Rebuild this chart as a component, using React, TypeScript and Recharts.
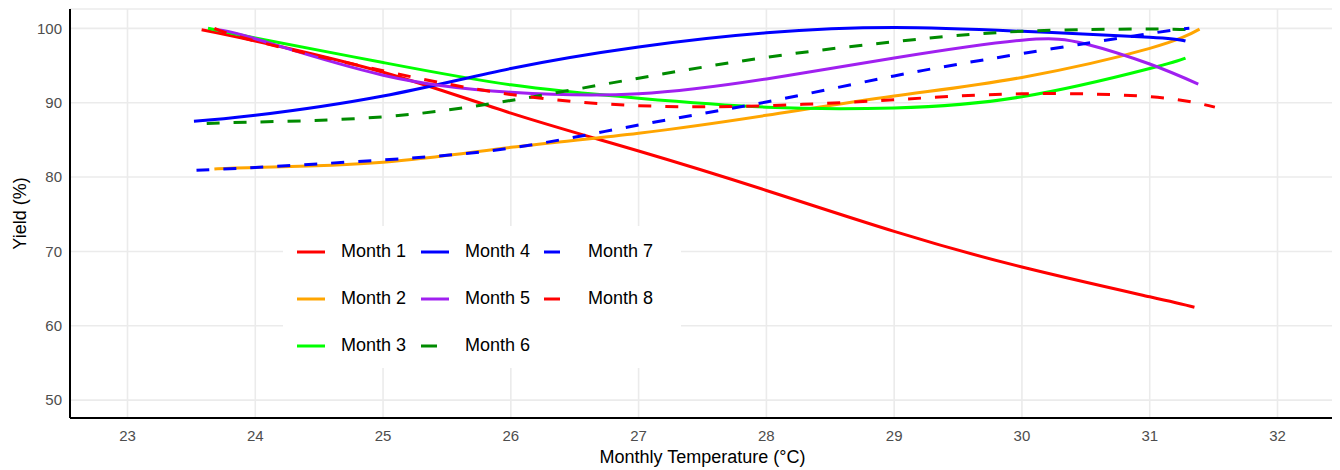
import { LineChart, Line, XAxis, YAxis, CartesianGrid, Legend, Label } from 'recharts';

// temperature (x) and yield (y)
const month1X = [23.58, 24, 25, 26, 27, 28, 29, 30, 31, 31.35];
const month1Y = [99.8, 98.3, 94.1, 88.6, 83.5, 78.2, 72.7, 67.9, 63.9, 62.5];

const month2X = [23.68, 24, 25, 26, 27, 28, 29, 30, 31, 31.39];
const month2Y = [81.1, 81.3, 82.0, 84.0, 85.9, 88.3, 90.9, 93.4, 97.3, 99.9];

const month3X = [23.63, 24, 25, 26, 27, 28, 29, 30, 31, 31.28];
const month3Y = [100, 98.7, 95.4, 92.4, 90.6, 89.4, 89.3, 90.8, 94.6, 96.0];

const month4X = [23.52, 24, 25, 26, 27, 28, 29, 30, 31, 31.28];
const month4Y = [87.5, 88.3, 90.9, 94.6, 97.5, 99.4, 100.1, 99.6, 98.8, 98.3];

const month5X = [23.7, 24, 25, 26, 27, 28, 29, 30, 30.5, 31, 31.38];
const month5Y = [99.8, 98.6, 93.7, 91.4, 91.2, 93.2, 96.0, 98.4, 97.9, 95.2, 92.5];

const month6X = [23.62, 24, 25, 26, 27, 28, 29, 30, 31, 31.31];
const month6Y = [87.2, 87.4, 88.1, 90.3, 93.3, 96.1, 98.2, 99.6, 99.9, 99.8];

const month7X = [23.54, 24, 25, 26, 27, 28, 29, 30, 31, 31.31];
const month7Y = [80.9, 81.3, 82.3, 83.9, 87.0, 90.1, 93.6, 96.6, 99.3, 100];

const month8X = [23.68, 24, 25, 26, 27, 28, 29, 30, 31, 31.51];
const month8Y = [100, 98.3, 94.3, 91.1, 89.6, 89.6, 90.4, 91.2, 90.8, 89.4];

const xTicks = [23, 24, 25, 26, 27, 28, 29, 30, 31, 32];
const yTicks = [50, 60, 70, 80, 90, 100];

const toPoints = (xs: number[], ys: number[]) => xs.map((x, i) => ({ x, y: ys[i] }));

const series = [
  { name: 'Month 1', color: '#ff0000', dashed: false, data: toPoints(month1X, month1Y) },
  { name: 'Month 2', color: '#ffa500', dashed: false, data: toPoints(month2X, month2Y) },
  { name: 'Month 3', color: '#00ff00', dashed: false, data: toPoints(month3X, month3Y) },
  { name: 'Month 4', color: '#0000ff', dashed: false, data: toPoints(month4X, month4Y) },
  { name: 'Month 5', color: '#a020f0', dashed: false, data: toPoints(month5X, month5Y) },
  { name: 'Month 6', color: '#008b00', dashed: true, data: toPoints(month6X, month6Y) },
  { name: 'Month 7', color: '#0000ff', dashed: true, data: toPoints(month7X, month7Y) },
  { name: 'Month 8', color: '#ff0000', dashed: true, data: toPoints(month8X, month8Y) },
];

const FONT = '"Liberation Sans", Arial, sans-serif';

const LegendBox = () => (
  <div
    style={{
      width: 398,
      height: 142,
      background: '#fff',
      boxSizing: 'border-box',
      padding: '2px 0 0 14px',
      display: 'grid',
      gridTemplateRows: 'repeat(3, 47px)',
      gridTemplateColumns: '124px 123px 123px',
      gridAutoFlow: 'column',
      fontFamily: FONT,
      fontSize: 18,
      color: '#000',
    }}
  >
    {series.map((s) => (
      <div key={s.name} style={{ display: 'flex', alignItems: 'center' }}>
        <svg width={28} height={6} style={{ marginRight: 16 }}>
          <line
            x1={0}
            y1={3}
            x2={28}
            y2={3}
            stroke={s.color}
            strokeWidth={3}
            strokeDasharray={s.dashed ? '16 14' : undefined}
          />
        </svg>
        <span>{s.name}</span>
      </div>
    ))}
  </div>
);

const YTitle = (props: any) => {
  const { viewBox } = props;
  const cy = viewBox.y + viewBox.height / 2;
  return (
    <text
      x={20}
      y={cy}
      transform={`rotate(-90, 20, ${cy})`}
      textAnchor="middle"
      dominantBaseline="central"
      fontFamily={FONT}
      fontSize={18}
      fill="#000"
    >
      Yield (%)
    </text>
  );
};

export default function App() {
  return (
    <div style={{ margin: '-8px 0 0 -8px', width: 1340, height: 470, fontFamily: FONT }}>
      <LineChart width={1340} height={470} margin={{ top: 9, right: 5, bottom: 0, left: 0 }}>
        <CartesianGrid stroke="#ebebeb" strokeWidth={1.6} />
        <XAxis
          dataKey="x"
          type="number"
          domain={[22.55, 32.45]}
          ticks={xTicks}
          allowDataOverflow
          height={52}
          tickSize={0}
          tickMargin={12}
          tickLine={false}
          axisLine={{ stroke: '#000', strokeWidth: 2 }}
          tick={{ fill: '#4d4d4d', fontSize: 15, fontFamily: FONT }}
        >
          <Label
            value="Monthly Temperature (°C)"
            position="insideBottom"
            offset={7}
            style={{ fontSize: 18, fill: '#000', fontFamily: FONT }}
          />
        </XAxis>
        <YAxis
          type="number"
          domain={[47.6, 102.6]}
          ticks={yTicks}
          allowDataOverflow
          width={70}
          tickSize={0}
          tickMargin={8}
          tickLine={false}
          axisLine={{ stroke: '#000', strokeWidth: 2 }}
          tick={{ fill: '#4d4d4d', fontSize: 15, fontFamily: FONT }}
        >
          <Label content={YTitle} />
        </YAxis>
        <Legend
          layout="horizontal"
          verticalAlign="middle"
          align="center"
          content={() => <LegendBox />}
          wrapperStyle={{ left: 283, top: 226, width: 398, height: 142 }}
        />
        {series.map((s) => (
          <Line
            key={s.name}
            data={s.data}
            dataKey="y"
            name={s.name}
            type="natural"
            stroke={s.color}
            strokeWidth={3}
            strokeDasharray={s.dashed ? '13 14' : undefined}
            dot={false}
            activeDot={false}
            isAnimationActive={false}
          />
        ))}
      </LineChart>
    </div>
  );
}
